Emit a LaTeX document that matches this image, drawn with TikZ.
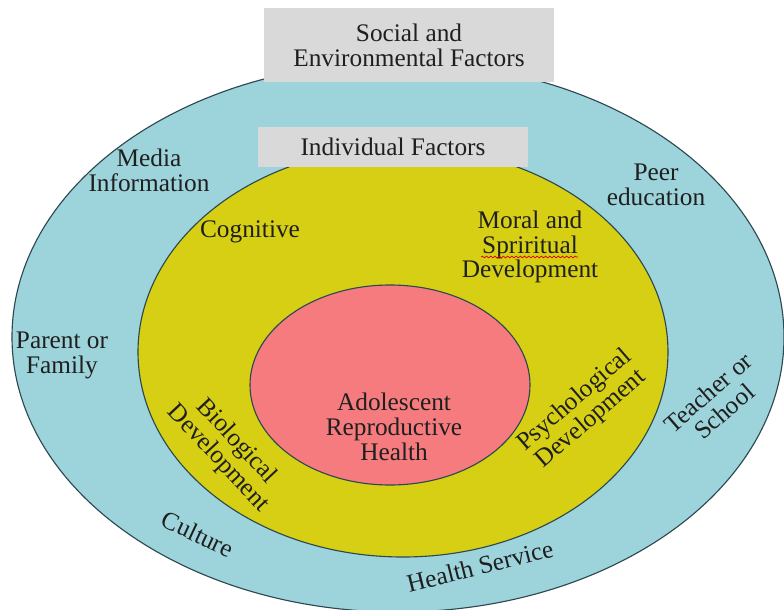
\documentclass[tikz,border=0pt]{standalone}
\usepackage{fontspec}
\setmainfont{Liberation Serif}
\usetikzlibrary{calc, decorations.pathmorphing}

\definecolor{ringteal}{HTML}{9DD3DB}
\definecolor{ringyellow}{HTML}{D6CF14}
\definecolor{corepink}{HTML}{F67B7F}
\definecolor{boxgray}{HTML}{D9D9D9}
\definecolor{edgeline}{HTML}{2C4850}

\begin{document}
\begin{tikzpicture}[x=0.025cm, y=-0.025cm,
  ring/.style={draw=edgeline, line width=0.8pt},
  factorbox/.style={fill=boxgray, inner sep=0pt, align=center},
  lbl/.style={align=center, inner sep=0pt, text=black!88,
    font=\fontsize{18}{17.7}\selectfont}]

\useasboundingbox (0,0) rectangle (784,610);

\coordinate (outer) at (398,337);
\coordinate (middle) at (403,352);
\coordinate (inner) at (390,385);

\draw[ring, fill=ringteal] (outer) ellipse [x radius=386, y radius=275];
\node[factorbox, lbl, minimum width=7.23cm, minimum height=1.83cm] (social) at (409,45) {Social and\\Environmental Factors};

\draw[ring, fill=ringyellow] (middle) ellipse [x radius=265, y radius=205];
\node[factorbox, lbl, minimum width=6.75cm, minimum height=1cm] (individual) at (393,147) {Individual Factors};

\draw[ring, fill=corepink] (inner) ellipse [x radius=140, y radius=100];

\node[lbl] (media) at (149,170) {Media\\Information};
\node[lbl] (peer) at (656,185) {Peer\\education};
\node[lbl] (parent) at (62,355) {Parent or\\Family};
\node[lbl] (cognitive) at (250,232) {Cognitive};
\node[lbl] (moral) at (530,247) {Moral and\\Spriritual\\Development};
\node[lbl] (health) at (394,427) {Adolescent\\Reproductive\\Health};
\node[lbl, rotate=-47] (biological) at (227,450) {Biological\\Development};
\node[lbl, rotate=41] (psychological) at (583,410) {Psychological\\Development};
\node[lbl, rotate=41] (teacher) at (716,402) {Teacher or\\School};
\node[lbl, rotate=-25] (culture) at (198,534) {Culture};
\node[lbl, rotate=14] (service) at (480,566) {Health Service};

\draw[red!85!black, line width=0.5pt, decorate,
  decoration={snake, amplitude=0.6pt, segment length=3pt}]
  ($(moral.center)+(-49,10)$) -- ($(moral.center)+(48,10)$);

\end{tikzpicture}
\end{document}
